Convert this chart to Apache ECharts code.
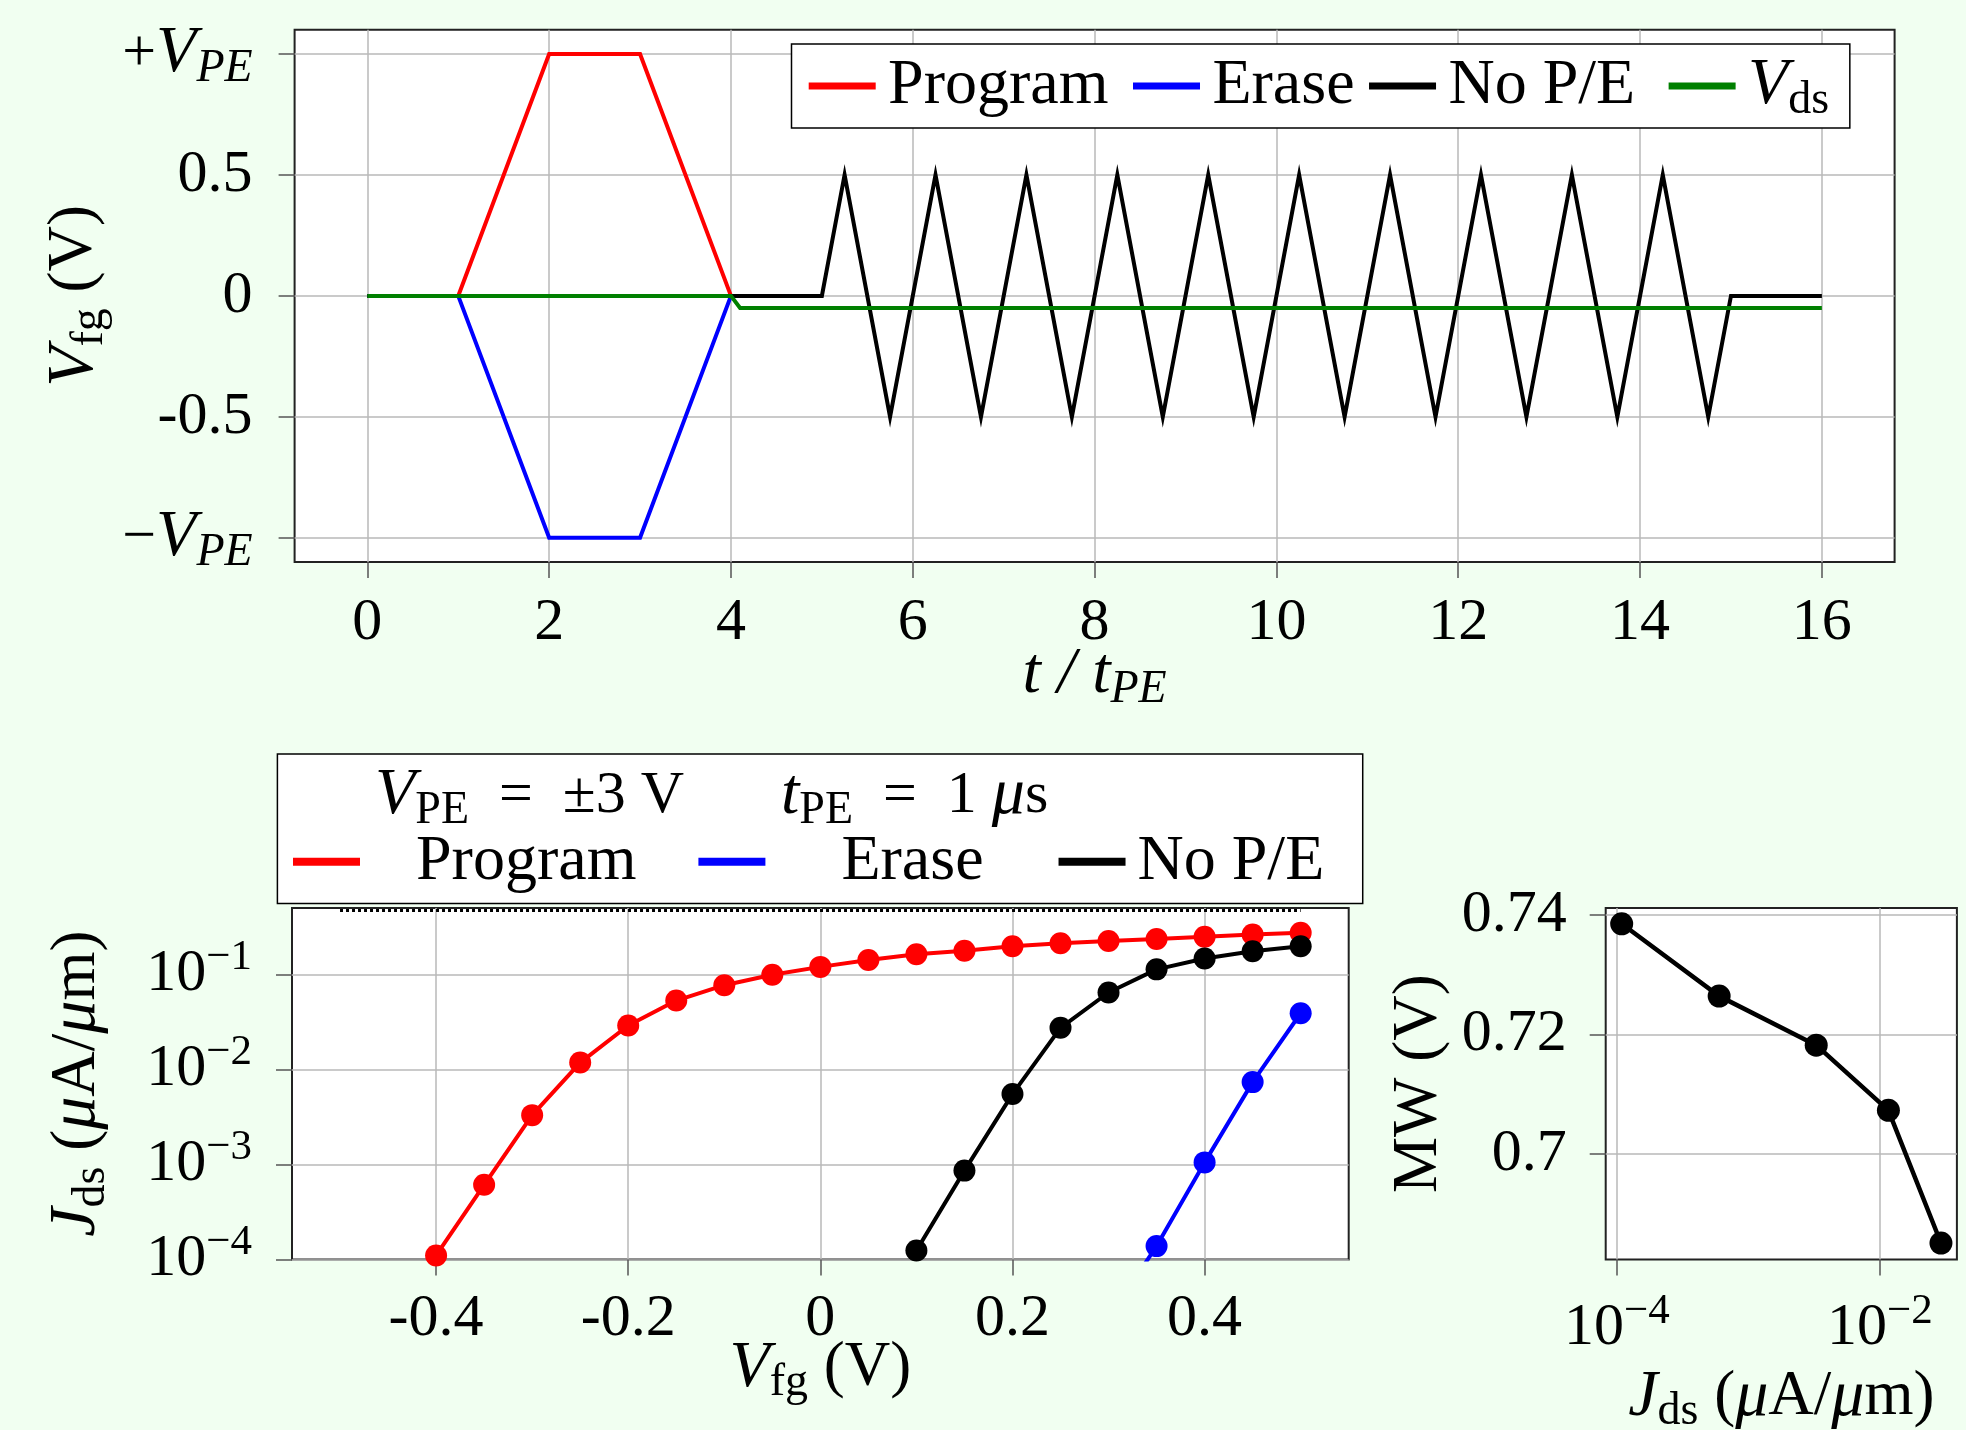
<!DOCTYPE html>
<html><head><meta charset="utf-8">
<script src="https://cdn.jsdelivr.net/npm/echarts@6/dist/echarts.min.js"></script>
<style>html,body{margin:0;padding:0;background:#f1fff1;} #c{width:1966px;height:1430px;}</style>
</head><body><div id="c"></div>
<script>
// ---------- Top panel: V_fg vs t/t_PE ----------
const progT = [0, 1, 2, 3, 4];
const progV = [0, 0, 1, 1, 0];
const eraseT = [0, 1, 2, 3, 4];
const eraseV = [0, 0, -1, -1, 0];
const nopeT = [0, 4, 5, 5.25, 5.75, 6.25, 6.75, 7.25, 7.75, 8.25, 8.75, 9.25, 9.75, 10.25, 10.75, 11.25, 11.75, 12.25, 12.75, 13.25, 13.75, 14.25, 14.75, 15, 16];
const nopeV = [0, 0, 0, 0.5, -0.5, 0.5, -0.5, 0.5, -0.5, 0.5, -0.5, 0.5, -0.5, 0.5, -0.5, 0.5, -0.5, 0.5, -0.5, 0.5, -0.5, 0.5, -0.5, 0, 0];
const vdsT = [0, 4, 4.1, 16];
const vdsV = [0, 0, -0.05, -0.05];
const topXTicks = [0, 2, 4, 6, 8, 10, 12, 14, 16];
const topXTickLabels = ['0', '2', '4', '6', '8', '10', '12', '14', '16'];
const topYTicks = [-1, -0.5, 0, 0.5, 1];
const topYTickLabels = ['\u2212V_PE', '-0.5', '0', '0.5', '+V_PE'];

// ---------- Bottom-left panel: J_ds vs V_fg ----------
const progVfg = [-0.4, -0.35, -0.3, -0.25, -0.2, -0.15, -0.1, -0.05, 0, 0.05, 0.1, 0.15, 0.2, 0.25, 0.3, 0.35, 0.4, 0.45, 0.5];
const progJ = [1.1e-4, 6.1e-4, 3.3e-3, 1.18e-2, 2.9e-2, 5.3e-2, 7.7e-2, 9.9e-2, 0.12, 0.142, 0.163, 0.177, 0.198, 0.213, 0.225, 0.236, 0.249, 0.263, 0.275];
const eraseVfg = [0.3, 0.35, 0.4, 0.45, 0.5];
const eraseJ = [2.4e-5, 1.38e-4, 1.05e-3, 7.35e-3, 3.9e-2];
const nopeVfg = [0.1, 0.15, 0.2, 0.25, 0.3, 0.35, 0.4, 0.45, 0.5];
const nopeJ = [1.24e-4, 8.6e-4, 5.5e-3, 2.74e-2, 6.45e-2, 0.113, 0.147, 0.175, 0.198];
const refVfg = [-0.5, 0.5];
const refJ = [0.47, 0.47];
const blXTicks = [-0.4, -0.2, 0, 0.2, 0.4];
const blXTickLabels = ['-0.4', '-0.2', '0', '0.2', '0.4'];
const blYTicks = [0.0001, 0.001, 0.01, 0.1];
const blYTickLabels = ['10^-4', '10^-3', '10^-2', '10^-1'];

// ---------- Bottom-right panel: MW vs J_ds ----------
const mwJ = [1.09e-4, 6.0e-4, 3.28e-3, 1.16e-2, 2.91e-2];
const mwV = [0.7385, 0.7264, 0.7182, 0.7073, 0.6851];
const brXTicks = [0.0001, 0.01];
const brXTickLabels = ['10^-4', '10^-2'];
const brYTicks = [0.70, 0.72, 0.74];
const brYTickLabels = ['0.7', '0.72', '0.74'];

// ---------- styling ----------
const F = '"Liberation Serif","DejaVu Serif",serif';
const LH = 76;
const RICH = {
  n: {fontFamily: F, fontSize: 60, fontWeight: 'normal', lineHeight: LH, color: '#000'},
  nm: {fontFamily: F, fontSize: 63, fontWeight: 'normal', lineHeight: LH, color: '#000'},
  it: {fontFamily: F, fontSize: 66, fontWeight: 'normal', fontStyle: 'italic', lineHeight: LH, color: '#000'},
  sub: {fontFamily: F, fontSize: 46, fontWeight: 'normal', lineHeight: LH, verticalAlign: 'bottom', color: '#000'},
  itsub: {fontFamily: F, fontSize: 46, fontWeight: 'normal', fontStyle: 'italic', lineHeight: LH, verticalAlign: 'bottom', color: '#000'},
  sup: {fontFamily: F, fontSize: 43, fontWeight: 'normal', lineHeight: LH, verticalAlign: 'top', color: '#000'}
};

function richLabel(s) {
  if (s.indexOf('^') >= 0) {
    const p = s.split('^');
    return '{n|' + p[0] + '}{sup|' + p[1].replace('-', '\u2212') + '}';
  }
  if (s.indexOf('V_PE') >= 0) {
    return '{n|' + s[0] + '}{it|V}{itsub|PE}';
  }
  return '{n|' + s + '}';
}
function labelFor(ticks, labels, v) {
  for (let i = 0; i < ticks.length; i++) {
    const t = ticks[i];
    if (Math.abs(t - v) < 1e-12 || (t !== 0 && Math.abs((t - v) / t) < 1e-6)) return labels[i];
  }
  return '';
}
function mkAxis(o) {
  return {
    type: o.type || 'value', gridIndex: o.grid, min: o.min, max: o.max, logBase: 10,
    axisLine: {show: false, onZero: false},
    axisTick: {show: true, inside: false, length: 16, customValues: o.ticks, lineStyle: {color: '#555', width: 1.5}},
    axisLabel: {customValues: o.ticks, margin: o.margin, rich: RICH,
      formatter: v => richLabel(labelFor(o.ticks, o.labels, v))},
    splitLine: {show: true, lineStyle: {color: '#b9b9b9', width: 1.5}},
    minorTick: {show: false}, minorSplitLine: {show: false},
    name: o.name, nameLocation: 'middle', nameGap: o.nameGap, nameMoveOverlap: false,
    nameTextStyle: {rich: RICH}
  };
}
function pairs(xs, ys) { return xs.map((x, i) => [x, ys[i]]); }
const gridStyle = {show: true, backgroundColor: '#fff', borderColor: '#222', borderWidth: 2, containLabel: false, outerBoundsMode: 'none'};

const option = {
  backgroundColor: '#f1fff1',
  animation: false,
  grid: [
    Object.assign({left: 294.6, top: 29.8, width: 1600, height: 532.2}, gridStyle),
    Object.assign({left: 292, top: 908, width: 1056.7, height: 351.4}, gridStyle),
    Object.assign({left: 1605.7, top: 908, width: 351.2, height: 351.4}, gridStyle)
  ],
  xAxis: [
    mkAxis({grid: 0, min: -0.8, max: 16.8, ticks: topXTicks, labels: topXTickLabels, margin: 23,
      name: '{it|t / t}{itsub|PE}', nameGap: 75}),
    mkAxis({grid: 1, min: -0.55, max: 0.55, ticks: blXTicks, labels: blXTickLabels, margin: 22,
      name: '{it|V}{sub|fg}{nm| (V)}', nameGap: 71}),
    mkAxis({grid: 2, type: 'log', min: 8.24e-5, max: 0.03846, ticks: brXTicks, labels: brXTickLabels, margin: 31,
      name: '{it|J}{sub|ds}{nm| (}{it|\u03bc}{nm|A/}{it|\u03bc}{nm|m)}', nameGap: 100})
  ],
  yAxis: [
    mkAxis({grid: 0, min: -1.1, max: 1.1, ticks: topYTicks, labels: topYTickLabels, margin: 42,
      name: '{it|V}{sub|fg}{nm| (V)}', nameGap: 182}),
    mkAxis({grid: 1, type: 'log', min: 0.0001, max: 0.5, ticks: blYTicks, labels: blYTickLabels, margin: 40,
      name: '{it|J}{sub|ds}{nm| (}{it|\u03bc}{nm|A/}{it|\u03bc}{nm|m)}', nameGap: 177}),
    mkAxis({grid: 2, min: 0.68236, max: 0.74114, ticks: brYTicks, labels: brYTickLabels, margin: 39,
      name: '{nm|MW (V)}', nameGap: 148})
  ],
  title: [
    {left: 375, top: 758, padding: 0, text: '{it|V}{sub|PE}{n|  =  \u00b13 V}', textStyle: {fontWeight: 'normal', rich: RICH}},
    {left: 781, top: 758, padding: 0, text: '{it|t}{sub|PE}{n|  =  1 }{it|\u03bc}{n|s}', textStyle: {fontWeight: 'normal', rich: RICH}}
  ],
  legend: [
    {
      left: 791.5, top: 44, orient: 'horizontal', itemGap: 0, itemWidth: 67, itemHeight: 7, icon: 'rect',
      selectedMode: false, padding: [4, 20.6, 4, 17.2], borderColor: '#000', borderWidth: 1.5, backgroundColor: '#fff',
      textStyle: {fontFamily: F, fontSize: 64, lineHeight: LH, color: '#000', rich: RICH},
      formatter: n => n === 'Vds' ? '{it|V}{sub|ds}' : n,
      data: [
        {name: 'Program', textStyle: {padding: [0, 24.5, 0, 7.4]}},
        {name: 'Erase', textStyle: {padding: [0, 14.5, 0, 7.4]}},
        {name: 'No P/E', textStyle: {padding: [0, 33.5, 0, 7.4]}},
        {name: 'Vds', textStyle: {padding: [0, 0, 0, 7.4]}}
      ]
    },
    {
      left: 277.4, top: 754, orient: 'horizontal', itemGap: 0, itemWidth: 67, itemHeight: 8, icon: 'rect',
      selectedMode: false, padding: [72.7, 38.5, 6.7, 15.6], borderColor: '#000', borderWidth: 1.5, backgroundColor: '#fff',
      textStyle: {fontFamily: F, fontSize: 64, lineHeight: 70, color: '#000'},
      data: [
        {name: 'Program', textStyle: {padding: [0, 62, 0, 51]}},
        {name: 'Erase', textStyle: {padding: [0, 75, 0, 71]}},
        {name: 'No P/E', textStyle: {padding: [0, 0, 0, 7]}}
      ]
    }
  ],
  series: [
    {name: 'Program', type: 'line', xAxisIndex: 0, yAxisIndex: 0, data: pairs(progT, progV), symbol: 'none',
      color: '#ff0000', lineStyle: {color: '#ff0000', width: 4, join: 'miter'}},
    {name: 'Erase', type: 'line', xAxisIndex: 0, yAxisIndex: 0, data: pairs(eraseT, eraseV), symbol: 'none',
      color: '#0000ff', lineStyle: {color: '#0000ff', width: 4, join: 'miter'}},
    {name: 'No P/E', type: 'line', xAxisIndex: 0, yAxisIndex: 0, data: pairs(nopeT, nopeV), symbol: 'none',
      color: '#000000', lineStyle: {color: '#000000', width: 4, join: 'miter', miterLimit: 20}},
    {name: 'Vds', type: 'line', xAxisIndex: 0, yAxisIndex: 0, data: pairs(vdsT, vdsV), symbol: 'none',
      color: '#008000', lineStyle: {color: '#008000', width: 4, join: 'miter'}},

    {name: 'Program', type: 'line', xAxisIndex: 1, yAxisIndex: 1, data: pairs(progVfg, progJ), symbol: 'circle', symbolSize: 22,
      color: '#ff0000', lineStyle: {color: '#ff0000', width: 4}, itemStyle: {color: '#ff0000'}},
    {name: 'Erase', type: 'line', xAxisIndex: 1, yAxisIndex: 1, data: pairs(eraseVfg, eraseJ), symbol: 'circle', symbolSize: 22,
      color: '#0000ff', lineStyle: {color: '#0000ff', width: 4}, itemStyle: {color: '#0000ff'}},
    {name: 'No P/E', type: 'line', xAxisIndex: 1, yAxisIndex: 1, data: pairs(nopeVfg, nopeJ), symbol: 'circle', symbolSize: 22,
      color: '#000000', lineStyle: {color: '#000000', width: 4}, itemStyle: {color: '#000000'}},
    {name: 'ref', type: 'line', xAxisIndex: 1, yAxisIndex: 1, data: pairs(refVfg, refJ), symbol: 'none',
      lineStyle: {color: '#000', width: 3, type: [3, 3]}},

    {name: 'MW', type: 'line', xAxisIndex: 2, yAxisIndex: 2, data: pairs(mwJ, mwV), symbol: 'circle', symbolSize: 23,
      color: '#000', lineStyle: {color: '#000', width: 4.5}, itemStyle: {color: '#000'}}
  ]
};

const chart = echarts.init(document.getElementById('c'), null, {renderer: 'canvas'});
chart.setOption(option);
</script>
</body></html>
